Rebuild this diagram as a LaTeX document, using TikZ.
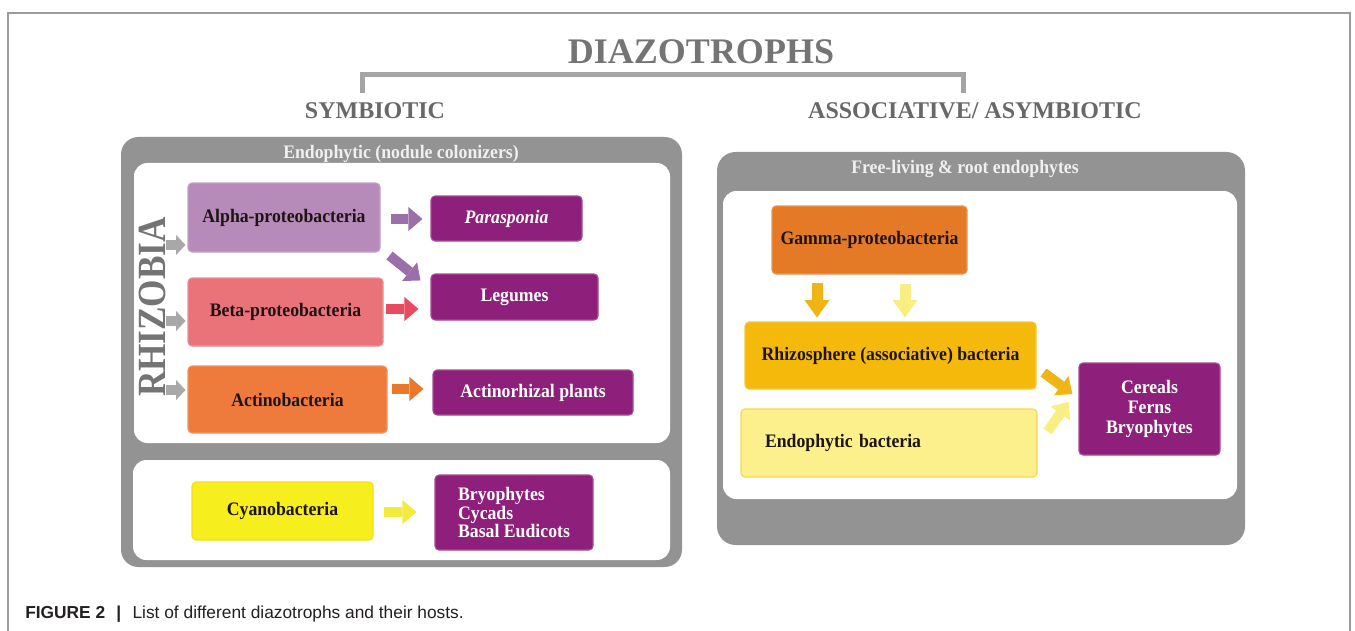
\documentclass[tikz,border=0pt]{standalone}
\usepackage{fontspec}
\setmainfont{Liberation Serif}
\newfontfamily\condserif[FakeStretch=0.93]{Liberation Serif}
\newfontfamily\capfont{Liberation Sans}
\usetikzlibrary{arrows.meta,calc}

\definecolor{panelgray}{HTML}{939393}
\definecolor{framegray}{HTML}{9C9C9C}
\definecolor{headgray}{HTML}{747474}
\definecolor{bracketgray}{HTML}{A4A4A4}
\definecolor{boxtext}{HTML}{1E1414}
\definecolor{alphacol}{HTML}{B68AB9}
\definecolor{alphaarr}{HTML}{9B70AA}
\definecolor{betacol}{HTML}{EA7379}
\definecolor{betaarr}{HTML}{E84B60}
\definecolor{actcol}{HTML}{EE7A3B}
\definecolor{actarr}{HTML}{E8792B}
\definecolor{hostcol}{HTML}{8E1F7B}
\definecolor{cyancol}{HTML}{F7EE1E}
\definecolor{cyanarr}{HTML}{F3EA3A}
\definecolor{gammacol}{HTML}{E57A26}
\definecolor{rhizcol}{HTML}{F5B90C}
\definecolor{darkyel}{HTML}{F0B414}
\definecolor{endocol}{HTML}{FCF08C}
\definecolor{lightyel}{HTML}{F8EE82}
\definecolor{grayarr}{HTML}{A8A8A8}
\definecolor{capcol}{HTML}{231F20}

\begin{document}
\begin{tikzpicture}[x=0.75pt,y=-0.75pt,
  boxfont/.style={font=\condserif\bfseries\fontsize{14.3}{15}\selectfont},
  bact/.style={rectangle, rounded corners=3pt, inner sep=0pt, boxfont, text=boxtext, align=center, line width=0.8pt},
  host/.style={bact, fill=hostcol, draw=hostcol!80!white, text=white},
  paneltitle/.style={boxfont, text=white!94!black, inner sep=0pt},
  header/.style={font=\bfseries\fontsize{18}{20}\selectfont, text=headgray!90!black, inner sep=0pt},
  blk/.style={line width=7.5pt, -{Triangle[width=18pt,length=10.5pt,line width=0pt]}},
  blkv/.style={line width=8.25pt, -{Triangle[width=18.75pt,length=13pt,line width=0pt]}},
  blkg/.style={line width=7pt, -{Triangle[width=15pt,length=7pt,line width=0pt]}},
]
\useasboundingbox (0,0) rectangle (1355,631);
\fill[white] (0,0) rectangle (1355,631);

% frame
\draw[framegray, line width=0.9pt] (8,631) -- (8,13) -- (1350,13) -- (1350,631);

% header
\node[anchor=base, font=\bfseries\fontsize{27}{30}\selectfont, text=headgray, inner sep=0pt] (diaz) at (701,64) {DIAZOTROPHS};
\node[header, anchor=base] (symb) at (375,119) {SYMBIOTIC};
\node[header, anchor=base] (asym) at (975,119) {ASSOCIATIVE/ ASYMBIOTIC};
\coordinate (bL) at (362,93);
\coordinate (bLt) at (362,75);
\coordinate (bRt) at (963,75);
\coordinate (bR) at (963,93);
\draw[bracketgray, line width=3.75pt] (bL) -- (bLt) -- (bRt) -- (bR);

% left panel
\fill[panelgray, rounded corners=13pt] (121,137) rectangle (682,567);
\fill[white, rounded corners=10pt] (134,163) rectangle (670,443);
\fill[white, rounded corners=10pt] (133,460) rectangle (670,560);
\node[paneltitle, anchor=base] (t1) at (401,158) {Endophytic (nodule colonizers)};

% right panel
\fill[panelgray, rounded corners=14pt] (717,152) rectangle (1245,545);
\fill[white, rounded corners=10pt] (723,191) rectangle (1237,499);
\node[paneltitle, anchor=base] (t2) at (965,174) {Free-living \& root endophytes};

% RHIZOBIA
\node[rotate=90, inner sep=0pt, font=\bfseries\fontsize{30}{32}\selectfont, text=headgray] (rhiz) at (152,307) {\scalebox{0.88}[1]{RHIZOBIA}};

% left boxes
\node[bact, fill=alphacol, draw=alphacol!80!white, minimum width=144pt, minimum height=51.75pt] (alpha) at (284,217.5) {Alpha-proteobacteria};
\node[bact, fill=betacol, draw=betacol!80!white, minimum width=146.25pt, minimum height=51pt] (beta) at (285.5,312) {Beta-proteobacteria};
\node[bact, fill=actcol, draw=actcol!80!white, minimum width=149.25pt, minimum height=50.25pt] (actino) at (287.5,399.5) {Actinobacteria};
\node[host, minimum width=113.25pt, minimum height=33.75pt] (para) at (506.5,218.5) {\textit{Parasponia}};
\node[host, minimum width=125.25pt, minimum height=34.5pt] (leg) at (514.5,297) {Legumes};
\node[host, minimum width=150pt, minimum height=33.75pt] (actpl) at (533,392.5) {Actinorhizal plants};
\node[bact, fill=cyancol, draw=cyancol!85!orange, minimum width=135.75pt, minimum height=43.5pt] (cyano) at (282.5,511) {Cyanobacteria};
\node[host, minimum width=118.5pt, minimum height=56.25pt, align=left, font=\condserif\bfseries\fontsize{14.3}{13.9}\selectfont] (bryo) at (514,512.5) {Bryophytes\\Cycads\\Basal Eudicots};

% right boxes
\node[bact, fill=gammacol, draw=gammacol!80!white, minimum width=146.25pt, minimum height=51pt] (gamma) at (869.5,240) {Gamma-proteobacteria};
\node[bact, fill=rhizcol, draw=rhizcol!80!white, minimum width=218.25pt, minimum height=50.25pt] (rhizo) at (890.5,355.5) {Rhizosphere (associative) bacteria};
\node[bact, fill=endocol, draw=rhizcol!45!endocol, minimum width=222pt, minimum height=51pt, text width=186pt, align=left] (endob) at (889,443) {Endophytic bacteria};
\node[host, minimum width=105.75pt, minimum height=69pt, font=\condserif\bfseries\fontsize{14.3}{15}\selectfont] (hosts) at (1149.5,409) {Cereals\\Ferns\\Bryophytes};

% gray arrows from RHIZOBIA
\draw[blkg, grayarr] ($(alpha.west)+(-21,27.5)$) -- ($(alpha.west)+(-2,27.5)$);
\draw[blkg, grayarr] ($(beta.west)+(-21,9)$) -- ($(beta.west)+(-2,9)$);
\draw[blkg, grayarr] ($(actino.west)+(-21,-9.5)$) -- ($(actino.west)+(-2,-9.5)$);

% left block arrows
\draw[blk, alphaarr] ($(alpha.east)+(10,1.5)$) -- ($(para.west)+(-8,0.5)$);
\draw[blk, alphaarr] ($(alpha.south east)+(9,3)$) -- ($(leg.north west)+(-10,7)$);
\draw[blk, betaarr] ($(beta.east)+(2,-3)$) -- ($(leg.west)+(-12,12)$);
\draw[blk, actarr] ($(actino.east)+(4,-10.5)$) -- ($(actpl.west)+(-9,-3.5)$);
\draw[blk, cyanarr] ($(cyano.east)+(10,1)$) -- ($(bryo.west)+(-18,-0.5)$);

% right block arrows
\draw[blkv, darkyel] ($(gamma.south)+(-52.5,8)$) -- ($(rhizo.north)+(-73.5,-4)$);
\draw[blkv, lightyel] ($(gamma.south)+(35.5,9)$) -- ($(rhizo.north)+(14.5,-4)$);
\draw[blk, darkyel] ($(rhizo.south east)+(7,-17)$) -- ($(hosts.west)+(-6,-15)$);
\draw[blk, lightyel] ($(endob.north east)+(10,23)$) -- ($(hosts.west)+(-10,-7)$);

% caption
\node[anchor=base west, inner sep=0pt, font=\capfont\fontsize{13}{15}\selectfont, text=capcol] (cap) at (25,618) {\textbf{FIGURE 2}\hspace{0.65em}\textbf{|}\hspace{0.65em}List of different diazotrophs and their hosts.};
\end{tikzpicture}
\end{document}
